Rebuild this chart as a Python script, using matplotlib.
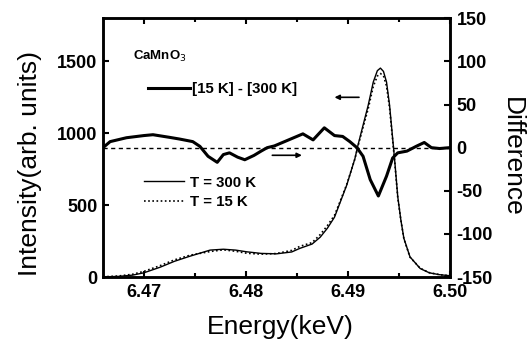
import matplotlib
matplotlib.use("Agg")
import matplotlib.pyplot as plt
from matplotlib.ticker import MultipleLocator, FormatStrFormatter

plt.rcParams['font.family'] = ['Liberation Sans', 'DejaVu Sans']
plt.rcParams['axes.unicode_minus'] = False

# ---- data ----
energy_int = [6.4660, 6.4675, 6.4689, 6.4700, 6.4716, 6.4730, 6.4745, 6.4765, 6.4778, 6.4790,
              6.4801, 6.4815, 6.4830, 6.4845, 6.4853, 6.4865, 6.4873, 6.4880, 6.4887, 6.4892,
              6.4899, 6.4907, 6.4910, 6.4915, 6.4920, 6.4925, 6.4929, 6.4932, 6.4935, 6.4938,
              6.4941, 6.4944, 6.4946, 6.4949, 6.4952, 6.4955, 6.4961, 6.4971, 6.4980, 6.4990,
              6.5000]
int_300K = [2, 5, 14, 30, 69, 110, 145, 188, 194, 188,
            176, 165, 162, 175, 200, 230, 278, 340, 417, 510,
            640, 824, 917, 1056, 1194, 1356, 1435, 1453, 1430, 1356,
            1194, 965, 812, 560, 400, 270, 141, 60, 30, 17,
            10]
int_15K = [2, 8, 20, 40, 80, 120, 152, 178, 190, 180,
           166, 160, 164, 186, 214, 240, 296, 358, 430, 518,
           645, 822, 910, 1042, 1170, 1325, 1398, 1415, 1400, 1328,
           1175, 952, 804, 554, 398, 268, 139, 62, 31, 17,
           10]

energy_diff = [6.4660, 6.4667, 6.4683, 6.4700, 6.4709, 6.4725, 6.4735, 6.4748, 6.4755, 6.4763,
               6.4772, 6.4778, 6.4784, 6.4792, 6.4799, 6.4808, 6.4815, 6.4821, 6.4828, 6.4846,
               6.4856, 6.4866, 6.4877, 6.4887, 6.4895, 6.4902, 6.4909, 6.4915, 6.4922, 6.4930,
               6.4938, 6.4944, 6.4949, 6.4958, 6.4967, 6.4975, 6.4982, 6.4990, 6.5000]
difference = [0, 7, 11.5, 14, 15, 12, 10, 7, 1.5, -10,
              -17, -8, -6, -11, -14, -9, -4, 0, 2, 11,
              16, 9, 23, 14, 13, 7, 0, -10, -37, -56,
              -33, -12, -6, -4, 1.5, 6, 0, -1, 0]

x_ticks = [6.47, 6.48, 6.49, 6.50]
left_ticks = [0, 500, 1000, 1500]
right_ticks = [-150, -100, -50, 0, 50, 100, 150]

# ---- figure ----
fig = plt.figure(figsize=(5.31, 3.43), dpi=100)
ax = fig.add_axes([0.194, 0.192, 0.653, 0.755])
ax2 = ax.twinx()

l300, = ax.plot(energy_int, int_300K, color='black', lw=1.0, label='T = 300 K')
l15, = ax.plot(energy_int, int_15K, color='black', lw=1.2, ls=(0, (1, 1.5)), label='T = 15 K')

ax2.axhline(0, color='black', lw=1.0, ls=(0, (3, 2.5)))
ld, = ax2.plot(energy_diff, difference, color='black', lw=2.2, label='[15 K] - [300 K]')

ax.set_xlim(6.466, 6.500)
ax.set_ylim(0, 1800)
ax2.set_ylim(-150, 150)

ax.set_xticks(x_ticks)
ax.xaxis.set_major_formatter(FormatStrFormatter('%.2f'))
ax.xaxis.set_minor_locator(MultipleLocator(0.005))
ax.set_yticks(left_ticks)
ax2.set_yticks(right_ticks)

for a in (ax, ax2):
    a.tick_params(which='both', direction='in', top=True, width=1.5)
    a.tick_params(which='major', length=4)
    a.tick_params(which='minor', length=3)
    for s in a.spines.values():
        s.set_linewidth(1.8)
ax.tick_params(right=False)
ax.tick_params(axis='x', pad=5)
ax.tick_params(axis='y', pad=4)
ax2.tick_params(left=False, labelleft=False, top=False, bottom=False)
ax2.tick_params(axis='y', pad=5)
for lab in ax.get_xticklabels() + ax.get_yticklabels() + ax2.get_yticklabels():
    lab.set_fontsize(13)
    lab.set_fontweight('bold')

ax.set_xlabel('Energy(keV)', fontsize=19, va='center')
ax.set_ylabel('Intensity(arb. units)', fontsize=19, va='center')
ax2.set_ylabel('Difference', fontsize=19, rotation=270, va='center')
ax.xaxis.set_label_coords(0.512, -0.193)
ax.yaxis.set_label_coords(-0.210, 0.438)
ax2.yaxis.set_label_coords(1.179, 0.463)

ax.text(0.0865, 0.852, 'CaMnO$_3$', transform=ax.transAxes, fontsize=9.5,
        fontweight='bold', va='center')

leg1 = ax2.legend(handles=[ld], loc='center left', bbox_to_anchor=(0.130, 0.726), frameon=False,
                  handlelength=2.8, handletextpad=0.15, borderpad=0, borderaxespad=0,
                  prop=dict(size=10.8, weight='bold'))
leg2 = ax2.legend(handles=[l300, l15], loc='center left', bbox_to_anchor=(0.118, 0.328),
                  frameon=False, handlelength=2.7, handletextpad=0.4, borderpad=0,
                  borderaxespad=0, labelspacing=0.35, prop=dict(size=10.8, weight='bold'))
ax2.add_artist(leg1)

# arrows indicating which axis each curve belongs to
arrow_left = ((6.4911, 1250), (6.4887, 1250))
arrow_right = ((6.4826, 847), (6.4855, 847))
for (x0, y0), (x1, y1) in (arrow_left, arrow_right):
    ax.annotate('', xy=(x1, y1), xytext=(x0, y0),
                arrowprops=dict(arrowstyle='-|>', color='black', lw=1.2,
                                mutation_scale=7, shrinkA=0, shrinkB=0))

fig.savefig('out.png', dpi=100)
